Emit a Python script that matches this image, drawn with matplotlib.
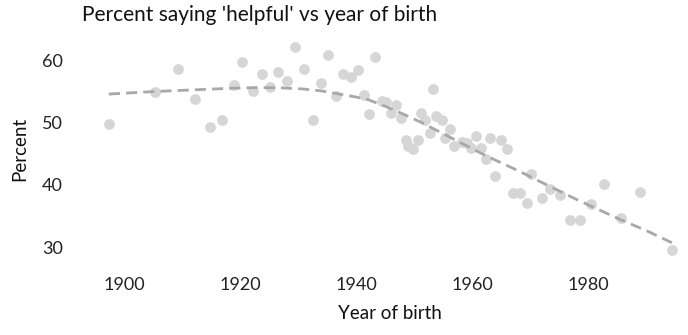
import matplotlib
matplotlib.use("Agg")
import matplotlib.pyplot as plt

plt.rcParams['font.family'] = ['Lato', 'DejaVu Sans']

# survey share answering 'helpful', one point per birth cohort
birth_year = [
    1897.3, 1905.2, 1909.2, 1912.2, 1914.7, 1916.8, 1918.8, 1920.3, 1922.2, 1923.7,
    1925.1, 1926.5, 1928.0, 1929.4, 1931.0, 1932.4, 1933.9, 1935.1, 1936.4, 1937.7,
    1939.1, 1940.2, 1941.3, 1942.2, 1943.2, 1944.3, 1945.1, 1945.9, 1946.8, 1947.7,
    1948.5, 1948.8, 1949.7, 1950.6, 1951.1, 1951.7, 1952.6, 1953.1, 1953.7, 1954.7,
    1955.3, 1956.0, 1956.8, 1958.1, 1959.0, 1959.7, 1960.6, 1961.4, 1962.2, 1963.0,
    1963.9, 1964.8, 1965.9, 1967.0, 1968.1, 1969.3, 1970.1, 1972.0, 1973.3, 1975.0,
    1976.7, 1978.5, 1980.4, 1982.7, 1985.6, 1988.9, 1994.3,
]
pct_helpful = [
    49.8, 55.0, 58.6, 53.8, 49.3, 50.5, 56.0, 59.8, 55.1, 57.9,
    55.7, 58.1, 56.7, 62.1, 58.7, 50.5, 56.3, 60.9, 54.3, 57.8,
    57.3, 58.4, 54.4, 51.4, 60.5, 53.5, 53.3, 51.6, 52.9, 50.8,
    47.2, 46.2, 45.7, 47.2, 51.5, 50.5, 48.4, 55.4, 51.1, 50.5,
    47.5, 49.0, 46.2, 46.9, 46.8, 45.9, 47.8, 45.9, 44.1, 47.5,
    41.5, 47.2, 45.7, 38.7, 38.7, 37.1, 41.8, 37.9, 39.4, 38.3,
    34.3, 34.4, 37.0, 40.1, 34.6, 38.9, 29.5,
]

# smoothed trend
trend_year = [1897.3, 1905, 1910, 1915, 1919, 1923, 1927, 1931, 1934, 1937,
              1940, 1942, 1945, 1948, 1951, 1956, 1962, 1968, 1971, 1978,
              1985, 1990, 1994.3]
trend_pct = [54.6, 55.0, 55.2, 55.4, 55.55, 55.65, 55.6, 55.4, 55.1, 54.6,
             54.1, 53.7, 52.6, 51.4, 50.1, 47.7, 44.8, 42.2, 40.8, 37.6,
             34.6, 32.6, 30.7]

x_ticks = [1900, 1920, 1940, 1960, 1980]
y_ticks = [30, 40, 50, 60]

fig = plt.figure(figsize=(6.88, 3.35), dpi=100)
ax = fig.add_axes([0.1173, 0.223, 1.0174 - 0.1173, 0.8887 - 0.223])

ax.scatter(birth_year, pct_helpful, s=60, color='#d6d6d6', linewidths=0, zorder=2)
ax.plot(trend_year, trend_pct, color='#a8a8a8', lw=2.0, ls=(0, (4, 2.2)),
        solid_joinstyle='round', zorder=3)

span_x = max(birth_year) - min(birth_year)
span_y = max(pct_helpful) - min(pct_helpful)
ax.set_xlim(min(birth_year) - 0.05 * span_x, max(birth_year) + 0.05 * span_x)
ax.set_ylim(min(pct_helpful) - 0.05 * span_y, max(pct_helpful) + 0.05 * span_y)
ax.set_xticks(x_ticks)
ax.set_yticks(y_ticks)
ax.tick_params(length=0, labelsize=13, colors='#222222')
ax.tick_params(axis='x', pad=12)
ax.tick_params(axis='y', pad=13)
for s in ax.spines.values():
    s.set_visible(False)

ax.set_xlabel('Year of birth', fontsize=13.5, color='#111111', labelpad=9)
ax.set_ylabel('Percent', fontsize=13.5, color='#111111', labelpad=10)
fig.text(82 / 688, 1 - 21 / 335, "Percent saying 'helpful' vs year of birth",
         fontsize=15, color='#111111', va='baseline', ha='left')

plt.savefig('out.png', dpi=100)
